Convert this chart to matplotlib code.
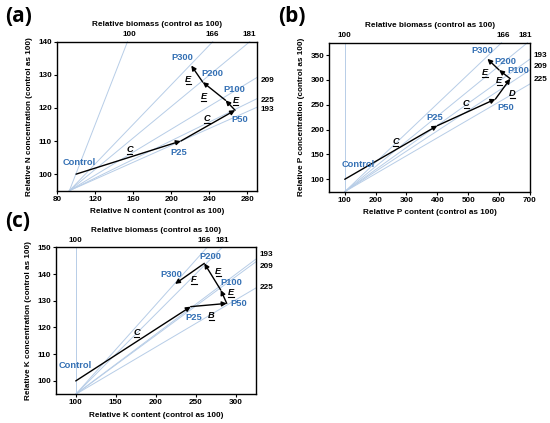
import matplotlib
matplotlib.use("Agg")
import matplotlib.pyplot as plt
from matplotlib.transforms import ScaledTranslation
from matplotlib.lines import Line2D

plt.rcParams['font.family'] = ['Liberation Sans', 'DejaVu Sans']
plt.rcParams['font.weight'] = 'bold'

# ---------------- data ----------------
treatments = ['Control', 'P25', 'P50', 'P100', 'P200', 'P300']

# Panel (a): N
a_content = [100, 210, 267, 257, 233, 221]
a_conc = [100, 110, 119.3, 122.3, 127.8, 132.8]
a_iso_biomass = [100, 166, 181, 209, 225, 193]
a_iso_origin = (93, 95)
a_iso_end_x = [154, 243.5, 282.4, 290, 290, 290]
a_iso_end_y = [140, 140, 140, 129.2, 122.8, 120.2]
a_letters = ['C', 'C', 'E', 'E', 'E']
a_xticks = [80, 120, 160, 200, 240, 280]
a_yticks = [100, 110, 120, 130, 140]

# Panel (b): P
b_content = [100, 400, 588, 636, 600, 562]
b_conc = [100, 208, 261.5, 302.5, 320, 342.5]
b_iso_biomass = [100, 166, 181, 193, 209, 225]
b_iso_origin = (100, 75)
b_iso_end_x = [100, 608, 692, 700, 700, 700]
b_iso_end_y = [375, 375, 375, 342, 320, 292]
b_letters = ['C', 'C', 'D', 'E', 'E']
b_xticks = [100, 200, 300, 400, 500, 600, 700]
b_yticks = [100, 150, 200, 250, 300, 350]

# Panel (c): K
c_content = [100, 243.5, 288.5, 281, 260.5, 224]
c_conc = [100, 127.8, 129, 134, 144, 136.3]
c_iso_biomass = [100, 166, 181, 193, 209, 225]
c_iso_origin = (100, 95)
c_iso_end_x = [100, 264, 283, 325, 325, 325]
c_iso_end_y = [150, 150, 150, 145.6, 144.6, 134.8]
c_letters = ['C', 'B', 'E', 'E', 'F']
c_xticks = [100, 150, 200, 250, 300]
c_yticks = [100, 110, 120, 130, 140, 150]

# ---------------- style ----------------
BLUE = '#3470b4'
ISO = '#b7cde7'
TICK_FS = 5.9
LAB_FS = 5.9
PT_FS = 6.7
LET_FS = 6.7

fig = plt.figure(figsize=(5.5, 4.23), dpi=100)


def panel(rect, content, conc, iso_b, origin, ex, ey, xlim, ylim, xticks, yticks,
          elem, letters, letter_pos, label_pos, top_label_x, right_label_y, tag, tagpos):
    ax = fig.add_axes(rect)
    ax.set_xlim(*xlim)
    ax.set_ylim(*ylim)
    # isolines
    for b, x1, y1 in zip(iso_b, ex, ey):
        ax.plot([origin[0], x1], [origin[1], y1], color=ISO, lw=0.7, zorder=1,
                clip_on=False)
    # biomass labels
    for b, x1, y1 in zip(iso_b, ex, ey):
        if y1 >= ylim[1] - 1e-6:
            tx = top_label_x.get(b, x1)
            ax.text(tx, 1.045, str(b), transform=ax.get_xaxis_transform(),
                    ha='center', va='center', fontsize=TICK_FS, fontweight='bold')
        else:
            ty = right_label_y.get(b, y1)
            ax.text(1.02, ty, str(b), transform=ax.get_yaxis_transform(),
                    ha='left', va='center', fontsize=TICK_FS, fontweight='bold')
    ax.text(0.5, 1.115, 'Relative biomass (control as 100)', transform=ax.transAxes,
            ha='center', va='center', fontsize=LAB_FS, fontweight='bold')
    # vector path
    for i in range(len(content) - 1):
        ax.annotate('', xy=(content[i + 1], conc[i + 1]), xytext=(content[i], conc[i]),
                    arrowprops=dict(arrowstyle='-|>', color='black', lw=1.0,
                                    mutation_scale=7, shrinkA=0, shrinkB=0),
                    zorder=3)
    # treatment labels
    for name, (lx, ly) in zip(treatments, label_pos):
        ax.text(lx, ly, name, color=BLUE, fontsize=PT_FS, ha='center', va='center',
                fontweight='bold')
    # diagnosis letters (italic, underlined)
    for L, (lx, ly) in zip(letters, letter_pos):
        ax.text(lx, ly, L, fontsize=LET_FS, fontstyle='italic', fontweight='bold',
                ha='center', va='center')
        tr = fig.dpi_scale_trans + ScaledTranslation(lx, ly, ax.transData)
        ax.add_line(Line2D([-0.026, 0.026], [-0.045, -0.045], transform=tr,
                           color='black', lw=0.8))
    ax.set_xticks(xticks)
    ax.set_yticks(yticks)
    ax.tick_params(direction='out', length=2, width=0.8, labelsize=TICK_FS, pad=1.5)
    for lab in ax.get_xticklabels() + ax.get_yticklabels():
        lab.set_fontweight('bold')
    for s in ax.spines.values():
        s.set_linewidth(1.0)
    ax.set_xlabel('Relative %s content (control as 100)' % elem, fontsize=LAB_FS,
                  labelpad=4, fontweight='bold')
    ax.set_ylabel('Relative %s concentration (control as 100)' % elem, fontsize=LAB_FS,
                  labelpad=4, fontweight='bold')
    fig.text(tagpos[0], tagpos[1], tag, fontsize=15, family='Open Sans',
             fontweight='bold', ha='left', va='center')
    return ax


panel([57 / 550, 1 - 190.7 / 423, 200 / 550, 149 / 423],
      a_content, a_conc, a_iso_biomass, a_iso_origin, a_iso_end_x, a_iso_end_y,
      (80, 290), (95, 140), a_xticks, a_yticks, 'N',
      a_letters,
      [(156, 107.5), (237.6, 116.8), (217.8, 128.6), (233.8, 123.3), (267.6, 122.3)],
      [(103, 103.5), (207.7, 106.5), (272, 116.6), (266.4, 125.7), (243.5, 130.4),
       (211.5, 135.3)],
      {100: 156.5}, {209: 128.4, 225: 122.2, 193: 119.6},
      '(a)', (5 / 550, 1 - 16 / 423))

panel([329.3 / 550, 1 - 191.7 / 423, 200.7 / 550, 149 / 423],
      b_content, b_conc, b_iso_biomass, b_iso_origin, b_iso_end_x, b_iso_end_y,
      (50, 700), (75, 375), b_xticks, b_yticks, 'P',
      b_letters,
      [(264.5, 177), (493.5, 252), (643, 272), (600, 299), (554, 315.5)],
      [(145, 130), (390, 225), (620, 245), (662, 319), (619, 337), (546, 360)],
      {166: 614, 181: 684}, {193: 349, 209: 328, 225: 301},
      '(b)', (278 / 550, 1 - 16 / 423))

panel([55.7 / 550, 1 - 394.3 / 423, 200.3 / 550, 147 / 423],
      c_content, c_conc, c_iso_biomass, c_iso_origin, c_iso_end_x, c_iso_end_y,
      (75, 325), (95, 150), c_xticks, c_yticks, 'K',
      c_letters,
      [(175.8, 118), (269.6, 124.6), (293.7, 133), (278, 140.9), (247.5, 138.1)],
      [(99, 105.8), (246.7, 123.8), (303, 128.8), (294.6, 137), (267.5, 146.5),
       (219.6, 139.9)],
      {166: 260, 181: 283}, {193: 147.4, 209: 142.8, 225: 134.8},
      '(c)', (5 / 550, 1 - 221 / 423))

fig.savefig('out.png', dpi=100)
